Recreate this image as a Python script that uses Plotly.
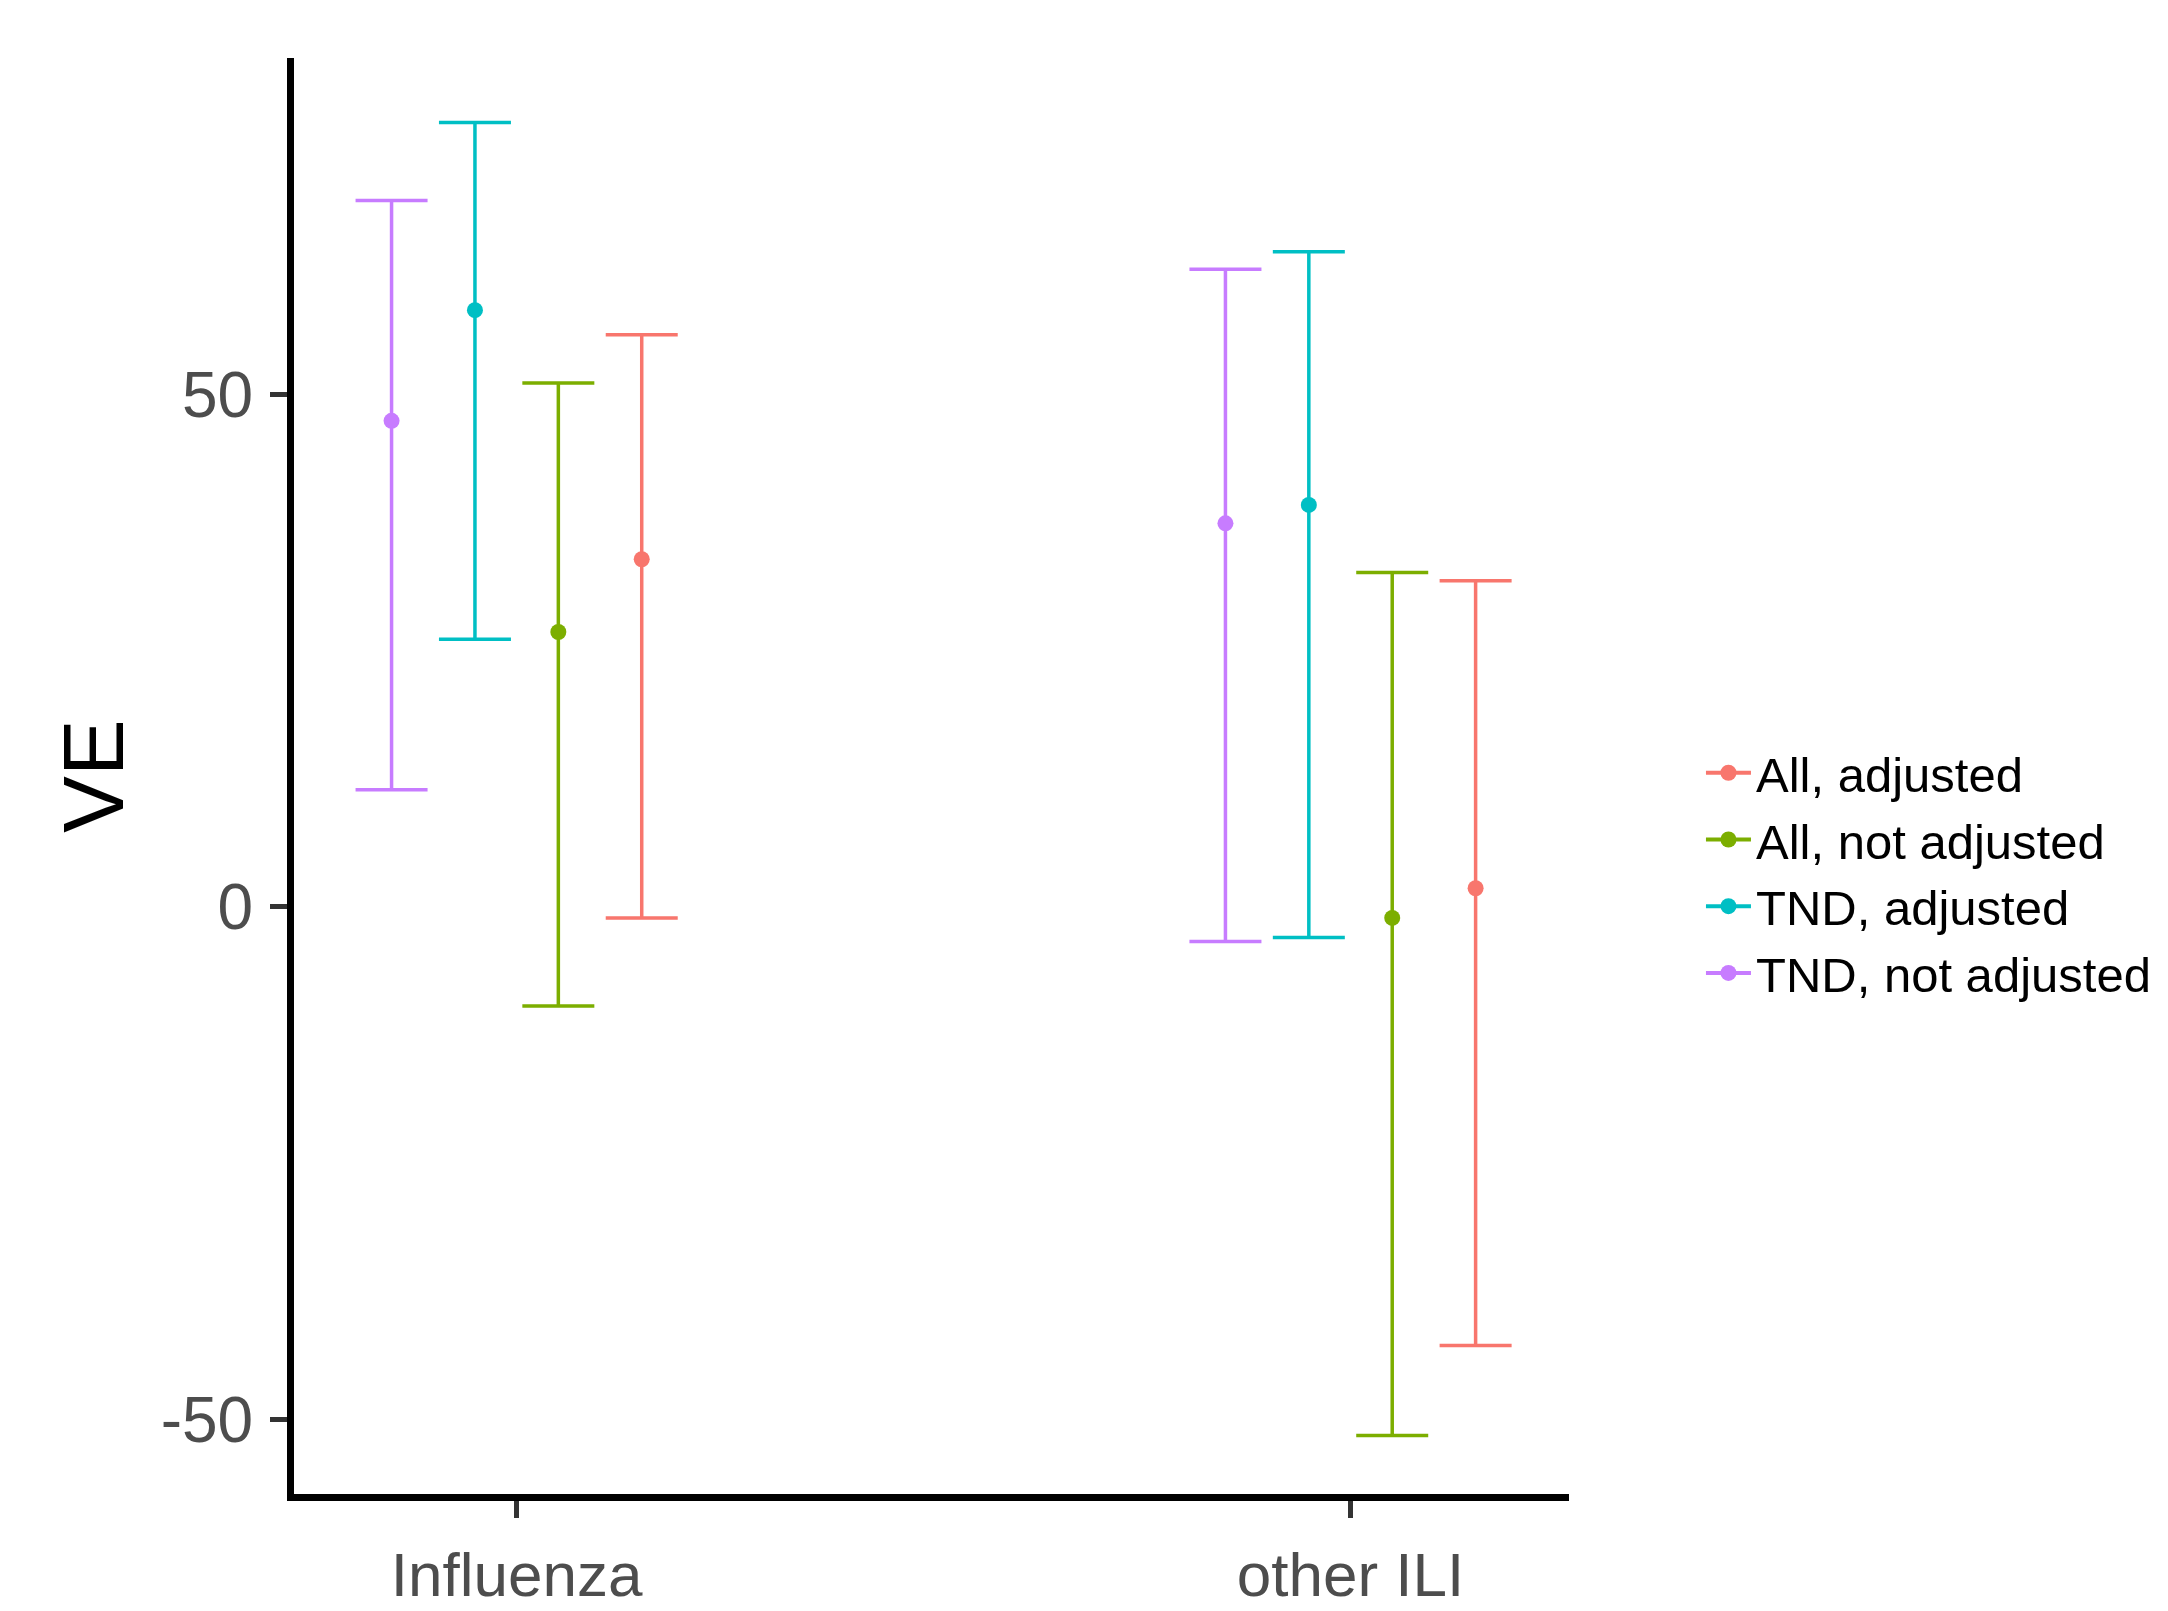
import plotly.graph_objects as go

categories = ["Influenza", "other ILI"]
series_names = ["All, adjusted", "All, not adjusted", "TND, adjusted", "TND, not adjusted"]
colors = ["#F8766D", "#7CAE00", "#00BFC4", "#C77CFF"]

estimate = {
    "All, adjusted": [33.9, 1.8],
    "All, not adjusted": [26.8, -1.1],
    "TND, adjusted": [58.2, 39.2],
    "TND, not adjusted": [47.4, 37.4],
}
lower = {
    "All, adjusted": [-1.1, -42.8],
    "All, not adjusted": [-9.7, -51.6],
    "TND, adjusted": [26.1, -3.0],
    "TND, not adjusted": [11.4, -3.4],
}
upper = {
    "All, adjusted": [55.8, 31.8],
    "All, not adjusted": [51.1, 32.6],
    "TND, adjusted": [76.5, 63.9],
    "TND, not adjusted": [68.9, 62.2],
}
y_ticks = [-50, 0, 50]

dodge_step = 0.1
n = len(series_names)

fig = go.Figure()
for i, name in enumerate(series_names):
    off = ((n - 1) / 2 - i) * dodge_step
    xs, ys, ep, em = [], [], [], []
    for j, _ in enumerate(categories):
        if j > 0:
            xs.append(None); ys.append(None); ep.append(None); em.append(None)
        xs.append(j + off)
        ys.append(estimate[name][j])
        ep.append(upper[name][j] - estimate[name][j])
        em.append(estimate[name][j] - lower[name][j])
    fig.add_trace(go.Scatter(
        x=xs, y=ys, name=name, mode="lines+markers",
        connectgaps=False,
        line=dict(color=colors[i], width=4),
        marker=dict(color=colors[i], size=16),
        error_y=dict(type="data", symmetric=False, array=ep, arrayminus=em,
                     color=colors[i], thickness=3.5, width=36),
    ))

fig.update_layout(
    width=2168, height=1611,
    paper_bgcolor="white", plot_bgcolor="white",
    margin=dict(l=286, r=607, t=50, b=125, autoexpand=False),
    font=dict(family="Liberation Sans, Arial, sans-serif", color="black"),
    legend=dict(
        x=1.1035, xanchor="left", y=0.4325, yanchor="middle",
        font=dict(size=49, family="Liberation Sans, Arial", color="black"),
        itemwidth=45, tracegroupgap=0, bgcolor="rgba(0,0,0,0)",
    ),
)
fig.update_xaxes(
    range=[-0.267, 1.262],
    tickvals=list(range(len(categories))), ticktext=categories,
    showgrid=False, zeroline=False,
    showline=True, linecolor="black", linewidth=7,
    ticks="outside", ticklen=17, tickwidth=5, tickcolor="#333333",
    tickfont=dict(size=62, color="#4D4D4D"),
    ticklabelstandoff=4, automargin=False,
)
fig.update_yaxes(
    range=[-57.3, 82.8],
    tickvals=y_ticks, ticktext=[str(v) for v in y_ticks],
    showgrid=False, zeroline=False,
    showline=True, linecolor="black", linewidth=7,
    ticks="outside", ticklen=17, tickwidth=5, tickcolor="#333333",
    tickfont=dict(size=64, color="#4D4D4D"),
    ticklabelstandoff=4, automargin=False,
    title=dict(text="VE", font=dict(size=85, color="black"), standoff=11),
)

fig.write_html("out.html")
